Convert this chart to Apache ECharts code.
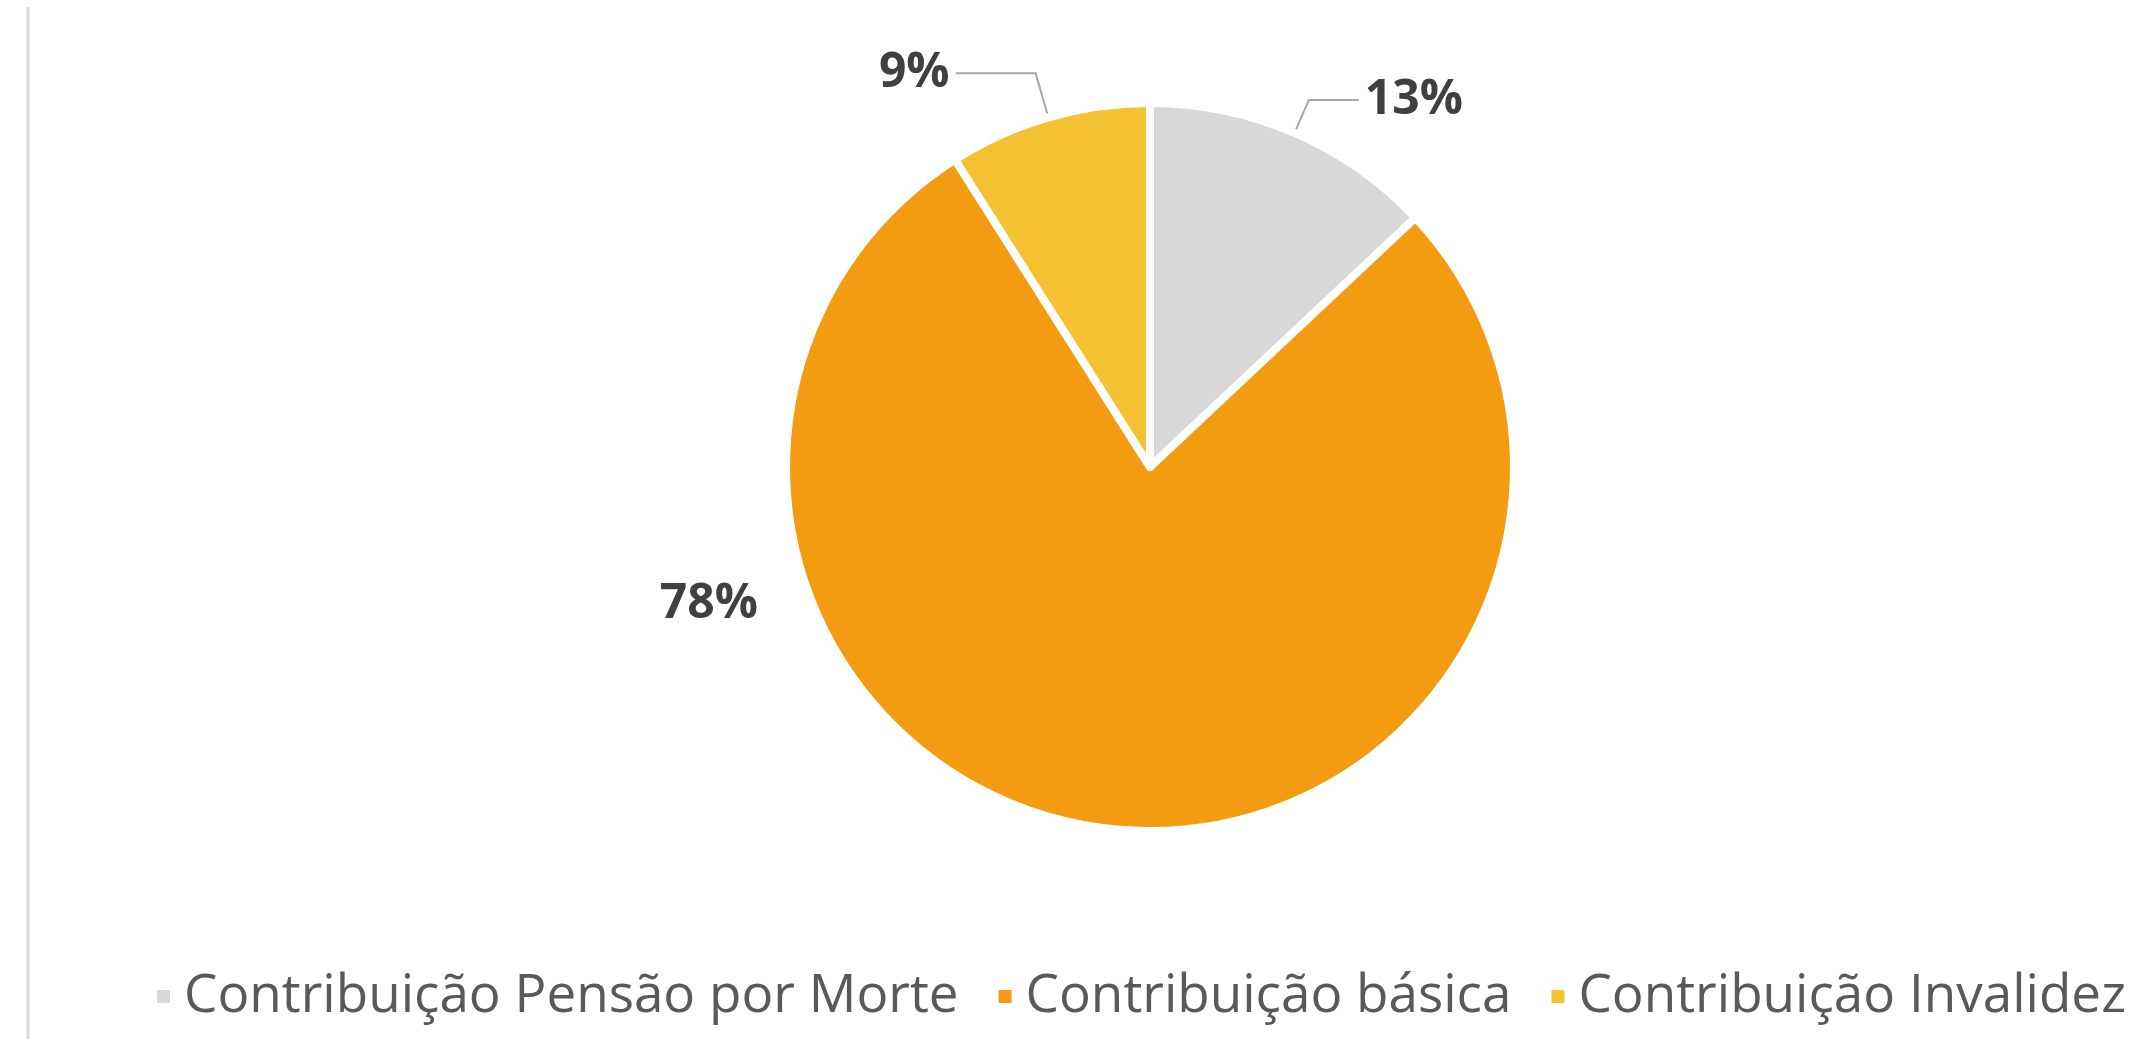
<!DOCTYPE html>
<html>
<head>
<meta charset="utf-8">
<script src="https://cdn.jsdelivr.net/npm/echarts@6/dist/echarts.min.js"></script>
<style>
  html, body { margin: 0; padding: 0; background: #ffffff; }
  #main { width: 2152px; height: 1039px; }
</style>
</head>
<body>
<div id="main"></div>
<script>
// 数据
var categories = ['Contribuição Pensão por Morte', 'Contribuição básica', 'Contribuição Invalidez'];
var values = [13, 78, 9];
var colors = ['#d8d8d8', '#f39c12', '#f4c132'];

var myChart = echarts.init(document.getElementById('main'));

var cx = 1150, cy = 467, r = 364;

var option = {
  backgroundColor: '#ffffff',
  animation: false,
  graphic: [{
    type: 'line',
    shape: { x1: 28, y1: 7, x2: 28, y2: 1039 },
    style: { stroke: '#d9d9d9', lineWidth: 3 }
  }],
  legend: {
    data: categories.map(function (name, i) {
      // 第二项后面的间距更大
      if (i === 1) return { name: name, textStyle: { padding: [0, 24, 0, 8] } };
      return { name: name };
    }),
    left: 150,
    top: 965,
    icon: 'rect',
    itemWidth: 15,
    itemHeight: 15,
    itemGap: 38,
    textStyle: {
      fontFamily: 'Open Sans',
      fontSize: 53,
      color: '#595959',
      padding: [0, 0, 0, 8]
    }
  },
  series: [{
    name: 'Contribuição',
    type: 'pie',
    center: [cx, cy],
    radius: r,
    startAngle: 90,
    clockwise: true,
    avoidLabelOverlap: false,
    itemStyle: {
      borderColor: '#ffffff',
      borderWidth: 8
    },
    label: {
      show: true,
      position: 'outside',
      formatter: '{c}%',
      fontFamily: 'Open Sans',
      fontWeight: 'bold',
      fontSize: 48,
      color: '#404040',
      distanceToLabelLine: 6
    },
    labelLine: {
      show: true,
      lineStyle: { color: '#a6a6a6', width: 2 }
    },
    labelLayout: function (params) {
      // 78% 标签放在饼图左侧
      if (params.dataIndex === 1) {
        return { x: cx - 392, y: cy + 137, align: 'right', verticalAlign: 'middle' };
      }
    },
    data: values.map(function (v, i) {
      var item = { value: v, name: categories[i], itemStyle: { color: colors[i] } };
      if (i === 0) item.labelLine = { length: 36, length2: 50 };
      if (i === 1) item.labelLine = { show: false };
      if (i === 2) item.labelLine = { length: 46, length2: 80 };
      return item;
    })
  }]
};

myChart.setOption(option);
</script>
</body>
</html>
